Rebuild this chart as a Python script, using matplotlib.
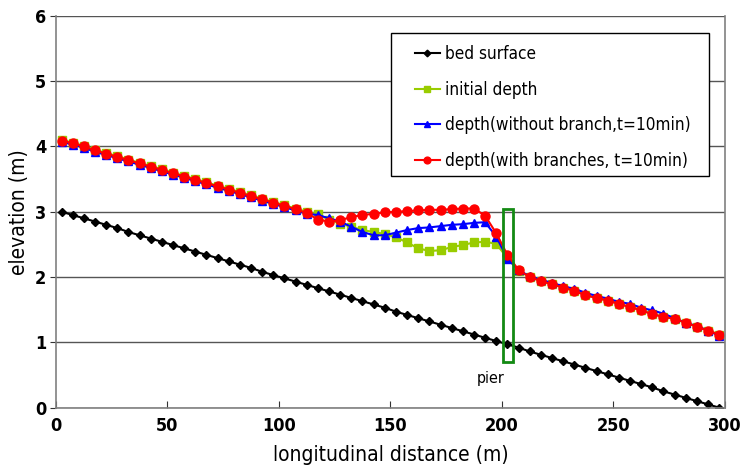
import numpy as np
import matplotlib
matplotlib.use('Agg')
import matplotlib.pyplot as plt
from matplotlib.patches import Rectangle

plt.rcParams['font.family'] = ['DejaVu Sans']
plt.rcParams['font.stretch'] = 'condensed'

# longitudinal positions (m), one point every 5 m
x = [2.5 + 5 * i for i in range(60)]

bed = [3.00, 2.95, 2.90, 2.85, 2.80, 2.75, 2.69, 2.64, 2.59, 2.54,
       2.49, 2.44, 2.39, 2.34, 2.29, 2.24, 2.19, 2.14, 2.08, 2.03,
       1.98, 1.93, 1.88, 1.83, 1.78, 1.73, 1.68, 1.63, 1.58, 1.53,
       1.47, 1.42, 1.37, 1.32, 1.27, 1.22, 1.17, 1.12, 1.07, 1.02,
       0.97, 0.92, 0.86, 0.81, 0.76, 0.71, 0.66, 0.61, 0.56, 0.51,
       0.46, 0.41, 0.36, 0.31, 0.25, 0.20, 0.15, 0.10, 0.05, 0.00]

initial = [4.10, 4.06, 4.01, 3.95, 3.90, 3.85, 3.80, 3.75, 3.70, 3.65,
           3.60, 3.55, 3.50, 3.45, 3.40, 3.35, 3.30, 3.25, 3.20, 3.15,
           3.10, 3.05, 3.00, 2.96, 2.88, 2.82, 2.77, 2.72, 2.69, 2.66,
           2.61, 2.53, 2.44, 2.40, 2.41, 2.46, 2.49, 2.53, 2.54, 2.51,
           2.29, 2.10, 2.00, 1.94, 1.89, 1.84, 1.79, 1.73, 1.68, 1.64,
           1.59, 1.54, 1.50, 1.44, 1.39, 1.36, 1.30, 1.24, 1.18, 1.12]

no_branch = [4.07, 4.03, 3.98, 3.92, 3.87, 3.82, 3.77, 3.72, 3.67, 3.62,
             3.57, 3.52, 3.47, 3.42, 3.37, 3.32, 3.27, 3.22, 3.17, 3.12,
             3.07, 3.02, 2.97, 2.95, 2.90, 2.85, 2.77, 2.69, 2.64, 2.64,
             2.68, 2.72, 2.75, 2.76, 2.78, 2.80, 2.81, 2.83, 2.84, 2.62,
             2.28, 2.11, 2.01, 1.96, 1.91, 1.86, 1.82, 1.76, 1.71, 1.67,
             1.62, 1.59, 1.53, 1.49, 1.44, 1.37, 1.30, 1.25, 1.18, 1.10]

branches = [4.09, 4.05, 4.00, 3.94, 3.89, 3.84, 3.79, 3.74, 3.69, 3.64,
            3.59, 3.54, 3.49, 3.44, 3.39, 3.34, 3.29, 3.24, 3.19, 3.14,
            3.09, 3.04, 2.98, 2.88, 2.85, 2.87, 2.92, 2.95, 2.97, 2.99,
            3.00, 3.01, 3.02, 3.03, 3.03, 3.04, 3.05, 3.05, 2.94, 2.67,
            2.34, 2.11, 2.00, 1.94, 1.89, 1.84, 1.79, 1.72, 1.68, 1.64,
            1.59, 1.54, 1.49, 1.43, 1.39, 1.36, 1.30, 1.24, 1.18, 1.12]

fig = plt.figure(figsize=(7.41, 4.68), dpi=100)
ax = fig.add_axes([0.0756, 0.129, 0.9024, 0.837])

ax.plot(x, bed, color='black', marker='D', markersize=4.5, lw=1.5, label='bed surface')
ax.plot(x, initial, color='#99cc00', marker='s', markersize=5.5, lw=1.5, label='initial depth')
ax.plot(x, no_branch, color='#0000ff', marker='^', markersize=6, lw=1.5,
        label='depth(without branch,t=10min)')
ax.plot(x, branches, color='#ff0000', marker='o', markersize=6.5, lw=1.5,
        label='depth(with branches, t=10min)')

# pier
ax.add_patch(Rectangle((200.5, 0.7), 4.5, 2.34, fill=False, edgecolor='#138a13', lw=2, zorder=5))
ax.text(195, 0.45, 'pier', fontsize=11.5, ha='center', va='center')

ax.set_xlim(0, 300)
ax.set_ylim(0, 6)
ax.set_xticks(range(0, 301, 50))
ax.set_yticks(range(0, 7))
ax.yaxis.grid(True, color='#555555', lw=1)
ax.set_axisbelow(True)
ax.spines['top'].set_visible(False)
for s in ['left', 'bottom', 'right']:
    ax.spines[s].set_color('#808080')
    ax.spines[s].set_linewidth(1.2)
ax.tick_params(axis='x', direction='in', length=5, labelsize=13, pad=7, color='#333333')
ax.tick_params(axis='y', direction='out', length=4, labelsize=13, pad=3, color='#333333')
for lab in ax.get_xticklabels() + ax.get_yticklabels():
    lab.set_fontweight('bold')

ax.set_xlabel('longitudinal distance (m)', fontsize=15, labelpad=7)
ax.set_ylabel('elevation (m)', fontsize=15, labelpad=4)

# legend frame drawn by hand so the padding matches
ax.add_patch(Rectangle((0.5007, 0.5914), 0.4754, 0.3652, transform=ax.transAxes,
                       facecolor='white', edgecolor='black', lw=1, zorder=6))
leg = ax.legend(loc='upper left', bbox_to_anchor=(0.5366, 0.9250), fontsize=12.3,
                frameon=False, handlelength=1.45, labelspacing=1.02, borderpad=0,
                handletextpad=0.3, borderaxespad=0, markerscale=0.75)
leg.set_zorder(7)

fig.savefig('out.png', dpi=100)
